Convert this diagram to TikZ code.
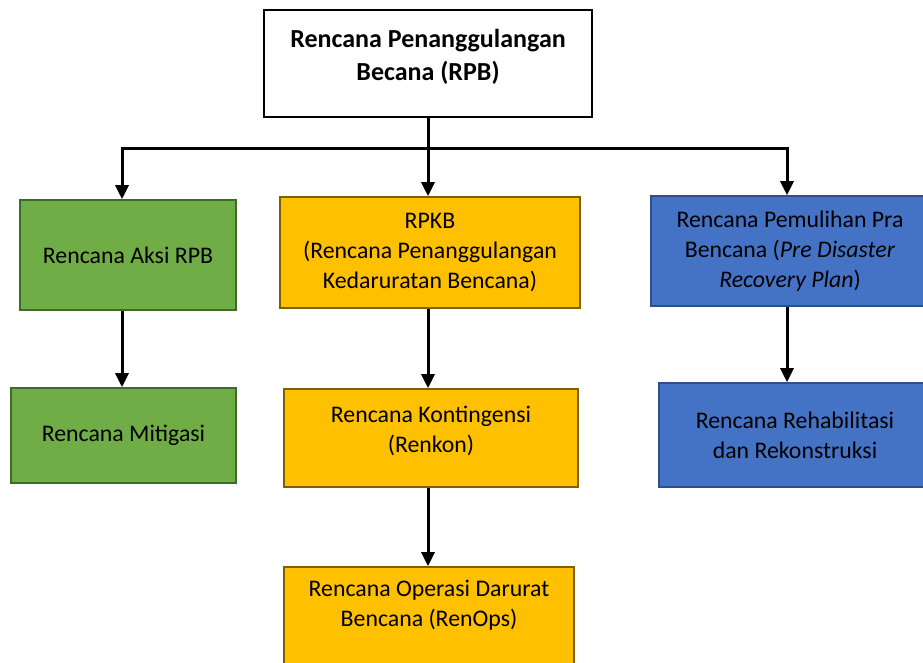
\documentclass[tikz,border=0pt]{standalone}
\usepackage{fontspec}
\setmainfont{Carlito}
\usepackage{xcolor}
\usetikzlibrary{arrows.meta}

\definecolor{aksigreen}{HTML}{70AD47}
\definecolor{aksiedge}{HTML}{3E6B27}
\definecolor{rpkbgold}{HTML}{FFC000}
\definecolor{rpkbedge}{HTML}{7F6000}
\definecolor{pulihblue}{HTML}{4472C4}
\definecolor{pulihedge}{HTML}{2F4F8A}

\begin{document}
\begin{tikzpicture}[x=1pt, y=-1pt,
    planbox/.style={draw, line width=1.6pt, align=center, inner sep=0pt,
        font=\fontsize{23.8}{30}\selectfont},
    green/.style={planbox, fill=aksigreen, draw=aksiedge},
    gold/.style={planbox, fill=rpkbgold, draw=rpkbedge},
    blue/.style={planbox, fill=pulihblue, draw=pulihedge},
    link/.style={line width=3pt, -{Triangle[width=13pt,length=14pt]}}]
    \useasboundingbox (0,0) rectangle (923,662);

    % top
    \node[draw, line width=2.6pt, minimum width=328pt, minimum height=107pt,
        align=center, font=\bfseries\fontsize{26}{33}\selectfont] (rpb) at (428,63.5)
        {Rencana Penanggulangan\\Becana (RPB)\\[-16pt]\mbox{}};

    % first row
    \node[green, minimum width=216pt, minimum height=110pt] (aksi) at (128,255)
        {Rencana Aksi RPB};
    \node[gold, minimum width=300pt, minimum height=111pt] (rpkb) at (430,252.5)
        {RPKB\\(Rencana Penanggulangan\\Kedaruratan Bencana)};
    \node[blue, minimum width=278pt, minimum height=110pt] (pulih) at (790,251)
        {Rencana Pemulihan Pra\\Bencana (\textit{Pre Disaster}\\\textit{Recovery Plan})};

    % second row
    \node[green, minimum width=225pt, minimum height=95pt] (mitigasi) at (123.5,435.5)
        {Rencana Mitigasi};
    \node[gold, minimum width=294pt, minimum height=98pt] (renkon) at (431,438)
        {Rencana Kontingensi\\(Renkon)\\[-12pt]\mbox{}};
    \node[blue, minimum width=272pt, minimum height=104pt] (rehab) at (795,435)
        {Rencana Rehabilitasi\\dan Rekonstruksi};

    % third row
    \node[gold, minimum width=290pt, minimum height=100pt] (renops) at (429,617)
        {Rencana Operasi Darurat\\Bencana (RenOps)\\[-2pt]\mbox{}};

    % connectors
    \coordinate (split) at ([yshift=-30pt]rpb.south);
    \draw[link] (rpb.south) -- (split) -| ([xshift=-6pt]aksi.north);
    \draw[link] (rpb.south) -- (rpkb.north -| rpb.south);
    \draw[link] (split) -| ([xshift=-3pt]pulih.north);
    \draw[link] ([xshift=-6pt]aksi.south) -- ([xshift=-6pt]aksi.south |- mitigasi.north);
    \draw[link] (rpkb.south -| rpb.south) -- (renkon.north -| rpb.south);
    \draw[link] (renkon.south -| rpb.south) -- (renops.north -| rpb.south);
    \draw[link] ([xshift=-3pt]pulih.south) -- ([xshift=-3pt]pulih.south |- rehab.north);
\end{tikzpicture}
\end{document}
